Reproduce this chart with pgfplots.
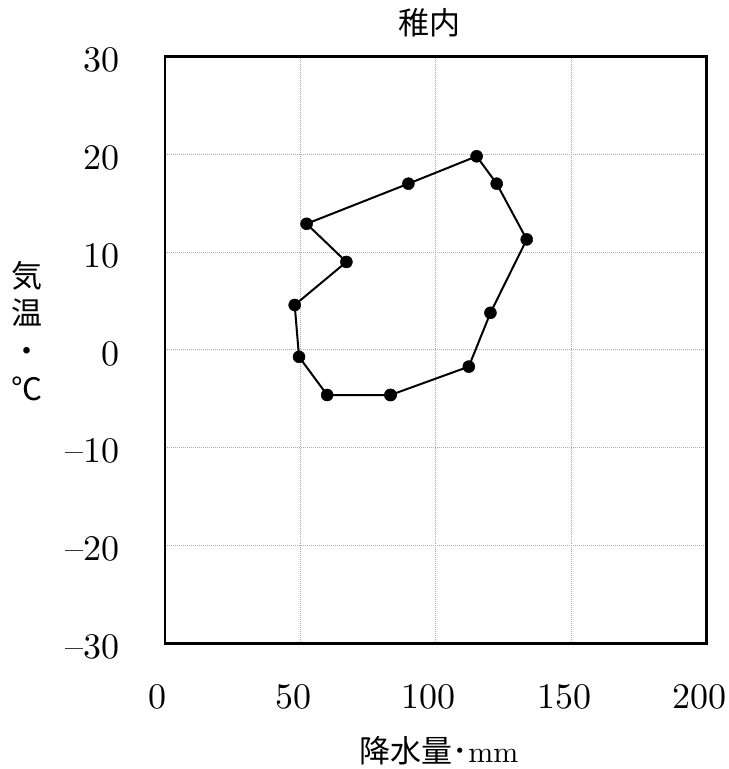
\documentclass[border=0pt]{standalone}
\usepackage{pgfplots}
\pgfplotsset{compat=1.18}
\usepackage{fontspec}
\newfontfamily\cjk{Noto Sans CJK JP}
\newfontfamily\lmten{lmroman10-regular.otf}
\begin{document}
\begin{tikzpicture}[x=1bp,y=1bp]
\path[use as bounding box] (-165,-125.5) rectangle (564,643.5);
\begin{axis}[
  at={(0,0)}, anchor=south west,
  scale only axis, width=541.5bp, height=587bp,
  xmin=0, xmax=200, ymin=-30, ymax=30,
  xtick={0,50,100,150,200}, ytick={-30,-20,-10,0,10,20,30},
  xticklabels={0,50,100,150,200},
  yticklabels={–30,–20,–10,0,10,20,30},
  grid=major,
  grid style={gray!65, line width=1bp, dash pattern=on 1bp off 1bp},
  major tick length=0pt,
  axis line style={line width=2.2bp},
  tick label style={font=\lmten\fontsize{36bp}{40bp}\selectfont, inner sep=0pt},
  xticklabel style={anchor=center, yshift=-53.5bp, xshift=-7bp},
  yticklabel style={anchor=east, xshift=-45bp, yshift=-3.5bp},
  clip=false,
]
\addplot[black, line width=2bp, mark=*, mark size=6bp,
  mark options={solid, fill=black, draw=black, line width=0.5bp}] coordinates {
  (83.3,-4.6) (59.9,-4.6) (49.5,-0.7) (47.9,4.6) (67.0,9.0) (52.3,12.9)
  (89.9,17.0) (115.1,19.8) (122.5,17.0) (133.6,11.3) (120.2,3.8) (112.2,-1.7)
  (83.3,-4.6)
};
\end{axis}
\node[font=\cjk\fontsize{31bp}{31bp}\selectfont, inner sep=0pt] at (264,620.5) {稚内};
\node[inner sep=0pt] at (274,-107.5) {{\cjk\fontsize{31bp}{31bp}\selectfont 降水量･}{\lmten\fontsize{30bp}{30bp}\selectfont mm}};
\node[align=center, inner sep=0pt, font=\cjk\fontsize{31bp}{37.7bp}\selectfont] at (-138,312.5) {気\\温\\・\\℃};
\end{tikzpicture}
\end{document}
